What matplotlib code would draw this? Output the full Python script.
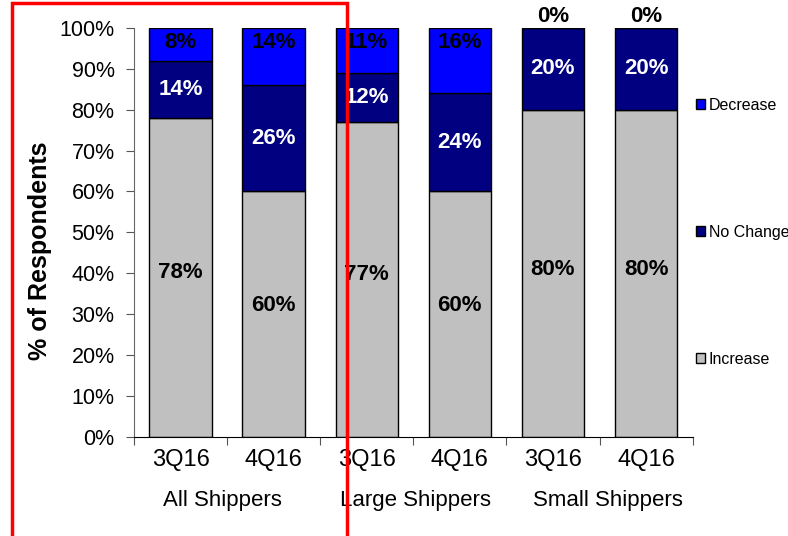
import matplotlib
matplotlib.use("Agg")
import matplotlib.pyplot as plt
from matplotlib.patches import Rectangle, Patch
import numpy as np

plt.rcParams['font.family'] = ['Liberation Sans', 'DejaVu Sans']

quarters = ["3Q16", "4Q16", "3Q16", "4Q16", "3Q16", "4Q16"]
groups = ["All Shippers", "Large Shippers", "Small Shippers"]
increase = [78, 60, 77, 60, 80, 80]
no_change = [14, 26, 12, 24, 20, 20]
decrease = [8, 14, 11, 16, 0, 0]

c_inc, c_nc, c_dec = "#C0C0C0", "#000080", "#0000FF"

fig = plt.figure(figsize=(7.88, 5.36), dpi=100)
ax = fig.add_axes([0.170, 0.185, 0.709, 0.763])

x = np.arange(len(quarters))
w = 0.67
inc = np.array(increase); nc = np.array(no_change); dec = np.array(decrease)
ax.bar(x, inc, w, color=c_inc, edgecolor="black", linewidth=1, zorder=2)
ax.bar(x, nc, w, bottom=inc, color=c_nc, edgecolor="black", linewidth=1, zorder=2)
ax.bar(x, dec, w, bottom=inc + nc, color=c_dec, edgecolor="black", linewidth=1, zorder=2)

lab_kw = dict(ha="center", va="center", fontsize=16, fontweight="bold", zorder=3)
for i in range(len(x)):
    ax.text(x[i], 0.45 * inc[i] + 5, f"{inc[i]}%", color="black", **lab_kw)
    ax.text(x[i], inc[i] + nc[i] / 2, f"{nc[i]}%", color="white", **lab_kw)
    if dec[i] > 0:
        ax.text(x[i], 96.5, f"{dec[i]}%", color="black", **lab_kw)
    else:
        ax.text(x[i], 100.3, f"{dec[i]}%", color="black", ha="center", va="bottom",
                fontsize=16, fontweight="bold", zorder=3, clip_on=False)

ax.set_xlim(-0.5, len(x) - 0.5)
ax.set_ylim(0, 100)
ax.set_yticks(np.arange(0, 101, 10))
ax.set_yticklabels([f"{v}%" for v in range(0, 101, 10)], fontsize=15.5)
ax.set_xticks(np.arange(-0.5, len(x), 1.0))
ax.set_xticklabels([])
ax.set_xticks(x, minor=True)
ax.set_xticklabels(quarters, minor=True, fontsize=17)
ax.tick_params(axis="x", which="minor", length=0, pad=9)
ax.tick_params(axis="x", which="major", length=6, direction="out", color="#555555")
ax.tick_params(axis="y", length=6, direction="out", color="#555555", pad=8)
for s in ["top", "right"]:
    ax.spines[s].set_visible(False)
ax.spines["left"].set_color("#666666")
ax.spines["bottom"].set_color("black")

for g, name in enumerate(groups):
    ax.text(2 * g + 0.45 + 0.07 * g, -15.5, name, ha="center", va="center",
            fontsize=16, transform=ax.transData, clip_on=False)

ax.set_ylabel("% of Respondents", fontsize=18, fontweight="bold")
ax.yaxis.set_label_coords(-0.147, 0.455)

handles = [Patch(facecolor=c_dec, edgecolor="black", label="Decrease"),
           Patch(facecolor=c_nc, edgecolor="black", label="No Change"),
           Patch(facecolor=c_inc, edgecolor="black", label="Increase")]
fig.legend(handles=handles, loc="upper left", bbox_to_anchor=(0.875, 0.829),
           frameon=False, fontsize=11.5, handlelength=0.6, handleheight=0.6,
           handletextpad=0.2, labelspacing=7.0, borderaxespad=0)

fig.patches.append(Rectangle((12 / 788, -0.05), (347 - 12) / 788, 1.05 - 3 / 536,
                             transform=fig.transFigure, fill=False,
                             edgecolor="#FF0000", linewidth=2.5, zorder=10))

fig.savefig("out.png", dpi=100)
